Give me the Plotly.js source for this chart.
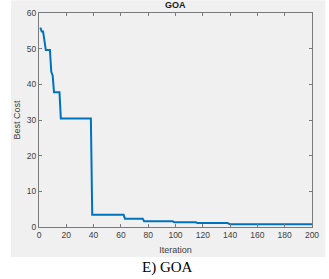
<!DOCTYPE html>
<html><head><meta charset="utf-8">
<script src="https://cdn.plot.ly/plotly-3.0.1.min.js"></script>
<style>html,body{margin:0;padding:0;background:#fff;}#chart{width:329px;height:279px;}</style>
</head><body><div id="chart"></div>
<script>
const iterations = [1, 2, 3, 5, 8, 9, 10, 11, 15, 16, 38, 39, 62, 63, 76, 77, 98, 99, 115, 116, 138, 140, 200];
const bestCost = [55.9, 54.8, 54.8, 49.6, 49.6, 43.5, 42.5, 37.8, 37.8, 30.4, 30.4, 3.4, 3.4, 2.3, 2.3, 1.6, 1.6, 1.3, 1.3, 1.1, 1.1, 0.8, 0.8];
const xTicks = [0, 20, 40, 60, 80, 100, 120, 140, 160, 180, 200];
const yTicks = [0, 10, 20, 30, 40, 50, 60];
const chartTitle = "GOA";
const xLabel = "Iteration";
const yLabel = "Best Cost";
const caption = "E) GOA";

const W = 329, H = 279;
const m = {l: 39, r: 17.3, t: 12.7, b: 51.7};
const pw = W - m.l - m.r, ph = H - m.t - m.b;
function px(x){ return (x - m.l) / pw; }
function py(y){ return (H - m.b - y) / ph; }

const axisCommon = {
  showline: true, mirror: 'ticks', linecolor: '#7a7a7a', linewidth: 1,
  ticks: 'inside', ticklen: 3, tickcolor: '#7a7a7a', tickwidth: 1,
  showgrid: false, zeroline: false,
  tickfont: {family: 'Liberation Sans, Arial, sans-serif', size: 8.5, color: '#404040'}
};

const data = [{
  x: iterations, y: bestCost, type: 'scatter', mode: 'lines',
  line: {color: '#0072BD', width: 2}, hoverinfo: 'skip'
}];

const layout = {
  width: W, height: H, margin: m,
  paper_bgcolor: '#ffffff', plot_bgcolor: '#ffffff',
  showlegend: false,
  title: {text: '<b>' + chartTitle + '</b>', x: (m.l + pw/2) / W, xanchor: 'center', y: 1 - 5/H, yanchor: 'middle',
          font: {family: 'Liberation Sans, Arial, sans-serif', size: 9, color: '#1a1a1a'}},
  xaxis: Object.assign({}, axisCommon, {range: [0, 200], tickvals: xTicks, ticktext: xTicks.map(String),
    title: {text: xLabel, standoff: 7, font: {family: 'Liberation Sans, Arial, sans-serif', size: 9, color: '#404040'}}}),
  yaxis: Object.assign({}, axisCommon, {range: [0, 60], tickvals: yTicks, ticktext: yTicks.map(String),
    title: {text: yLabel, standoff: 4, font: {family: 'Liberation Sans, Arial, sans-serif', size: 9, color: '#404040'}}}),
  shapes: [{type: 'rect', xref: 'paper', yref: 'paper', layer: 'below',
    x0: px(11), x1: px(325), y0: py(257.5), y1: py(0),
    fillcolor: '#f0f0f0', line: {width: 0}}],
  annotations: [{text: caption, xref: 'paper', yref: 'paper', x: px(167), y: py(268),
    xanchor: 'center', yanchor: 'middle', showarrow: false,
    font: {family: 'Liberation Serif, Times New Roman, serif', size: 15, color: '#000'}}]
};

Plotly.newPlot('chart', data, layout, {staticPlot: true, displayModeBar: false});
</script></body></html>
